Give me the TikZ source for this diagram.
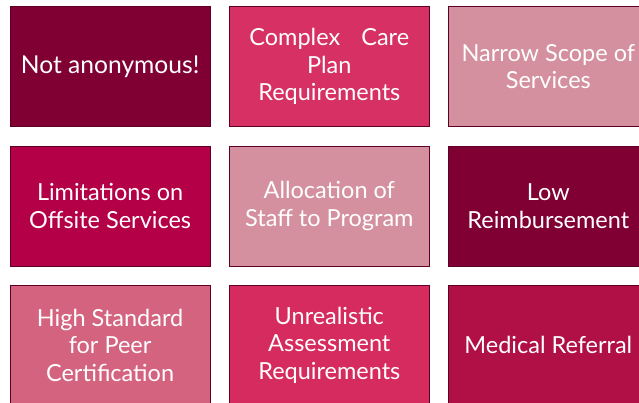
\documentclass[tikz,border=0pt]{standalone}
\usepackage{fontspec}
\setmainfont{Lato}
\begin{document}
\begin{tikzpicture}[x=1pt,y=-1pt,
  tile/.style={draw=edgecol, line width=1.2pt, minimum width=200pt, minimum height=120pt,
    anchor=north west, inner sep=0pt, text=white, align=center,
    font=\fontsize{23.5}{27.5}\selectfont},
  ]
\definecolor{edgecol}{HTML}{5C0026}
\definecolor{wine}{HTML}{800033}
\definecolor{rose}{HTML}{D63064}
\definecolor{blush}{HTML}{D4909E}
\definecolor{berry}{HTML}{B30047}
\definecolor{coral}{HTML}{D4637F}
\definecolor{crimson}{HTML}{D62B5E}
\definecolor{ruby}{HTML}{B01046}
\useasboundingbox (0,0) rectangle (639,402);
\node[tile, fill=wine, font=\fontsize{24.6}{29}\selectfont] (t11) at (9.5,6) {Not anonymous!};
\node[tile, fill=rose] (t12) at (228.7,6) {Complex\hspace{0.9em}Care\\Plan\\Requirements};
\node[tile, fill=blush] (t13) at (447.7,6) {Narrow Scope of\\Services};
\node[tile, fill=berry] (t21) at (9.5,145.5) {Limitations on\\Offsite Services};
\node[tile, fill=blush] (t22) at (228.7,145.5) {Allocation of\\Staff to Program};
\node[tile, fill=wine] (t23) at (447.7,145.5) {Low\\Reimbursement};
\node[tile, fill=coral] (t31) at (9.5,284.5) {High Standard\\for Peer\\Certification};
\node[tile, fill=crimson] (t32) at (228.7,284.5) {Unrealistic\\Assessment\\Requirements};
\node[tile, fill=ruby] (t33) at (447.7,284.5) {Medical Referral};
\end{tikzpicture}
\end{document}
